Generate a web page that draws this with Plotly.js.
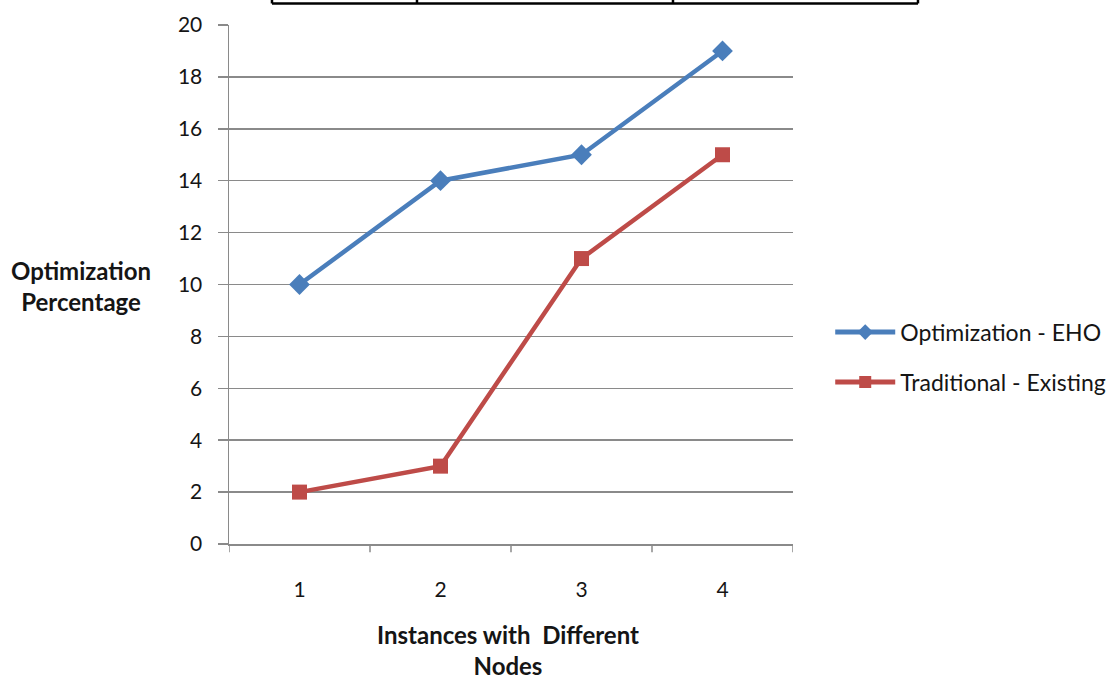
<!DOCTYPE html>
<html>
<head>
<meta charset="utf-8">
<script src="https://cdn.plot.ly/plotly-3.0.1.min.js"></script>
<style>
  html, body { margin: 0; padding: 0; background: #ffffff; }
  #chart { width: 1107px; height: 680px; }
</style>
</head>
<body>
<div id="chart"></div>
<script>
// Instances (nodes) on the x axis
const instances = [1, 2, 3, 4];
const instanceLabels = ['1', '2', '3', '4'];

// Optimization percentage per instance
const ehoValues = [10, 14, 15, 19];
const existingValues = [2, 3, 11, 15];

const seriesNames = ['Optimization - EHO', 'Traditional - Existing'];

const yTicks = [0, 2, 4, 6, 8, 10, 12, 14, 16, 18, 20];

const FONT = 'Lato, "Open Sans", "Noto Sans", sans-serif';
const GRID = '#8a8a8a';
const BLUE = '#4a7ebb';
const RED = '#be4b48';
const TEXT = '#151515';

const traces = [
  {
    x: instances, y: ehoValues, name: seriesNames[0], legendgroup: 'a',
    type: 'scatter', mode: 'lines+markers',
    line: { color: BLUE, width: 4.5 },
    marker: { symbol: 'diamond', size: 16, color: BLUE }
  },
  {
    x: instances, y: existingValues, name: seriesNames[1], legendgroup: 'b',
    type: 'scatter', mode: 'lines+markers',
    line: { color: RED, width: 4.5 },
    marker: { symbol: 'square', size: 15, color: RED }
  }
];

// cell borders of the table row above the chart
const tableShapes = [];
const cellEdges = [0.0762, 0.3333, 0.7872, 1.2216];
cellEdges.forEach(function (xe) {
  tableShapes.push({ type: 'line', xref: 'paper', yref: 'paper',
    x0: xe, x1: xe, y0: 1.0415, y1: 1.06,
    line: { color: '#000000', width: 2.5 } });
});
tableShapes.push({ type: 'line', xref: 'paper', yref: 'paper',
  x0: cellEdges[0], x1: cellEdges[cellEdges.length - 1], y0: 1.0415, y1: 1.0415,
  line: { color: '#000000', width: 2.5 } });

const layout = {
  width: 1107, height: 680,
  margin: { l: 229, r: 314, t: 25, b: 136, autoexpand: false },
  paper_bgcolor: '#ffffff', plot_bgcolor: '#ffffff',
  font: { family: FONT, size: 21, color: TEXT },
  showlegend: true,
  legend: {
    x: 1.066, xanchor: 'left', y: 0.36, yanchor: 'middle',
    font: { family: FONT, size: 23, color: TEXT },
    traceorder: 'grouped', tracegroupgap: 17, itemwidth: 60, itemsizing: 'constant',
    bgcolor: 'rgba(0,0,0,0)'
  },
  xaxis: {
    range: [0.5, 4.5],
    tickmode: 'array', tickvals: instances, ticktext: instanceLabels,
    ticks: '', showgrid: false, zeroline: false,
    showline: true, linecolor: GRID, linewidth: 1.5,
    tickfont: { family: FONT, size: 21, color: TEXT },
    ticklabelstandoff: 26,
    title: { text: '' },
    fixedrange: true
  },
  yaxis: {
    range: [0, 20],
    tickmode: 'array', tickvals: yTicks,
    ticks: 'outside', ticklen: 10, tickcolor: GRID, tickwidth: 1.5,
    showgrid: true, gridcolor: GRID, gridwidth: 1.5,
    zeroline: false,
    showline: true, linecolor: GRID, linewidth: 1.5,
    tickfont: { family: FONT, size: 21, color: TEXT },
    ticklabelstandoff: 11,
    title: { text: '' },
    fixedrange: true
  },
  shapes: tableShapes.concat(
    // category boundary ticks below the x axis
    [0.5, 1.5, 2.5, 3.5, 4.5].map(function (xb) {
      return { type: 'line', xref: 'x', yref: 'paper', x0: xb, x1: xb,
        y0: 0, y1: -0.016, line: { color: GRID, width: 1.5 } };
    })
  ),
  annotations: [
    {
      text: '<b>Optimization<br>Percentage</b>',
      xref: 'paper', yref: 'paper', x: -0.262, y: 0.497,
      xanchor: 'center', yanchor: 'middle', showarrow: false,
      font: { family: FONT, size: 24, color: TEXT }, align: 'center'
    },
    {
      text: '<b>Instances with\u00a0 Different<br>Nodes</b>',
      xref: 'paper', yref: 'paper', x: 0.495, y: -0.205,
      xanchor: 'center', yanchor: 'middle', showarrow: false,
      font: { family: FONT, size: 24, color: TEXT }, align: 'center'
    }
  ]
};

Plotly.newPlot('chart', traces, layout, { displayModeBar: false, staticPlot: true });
</script>
</body>
</html>
